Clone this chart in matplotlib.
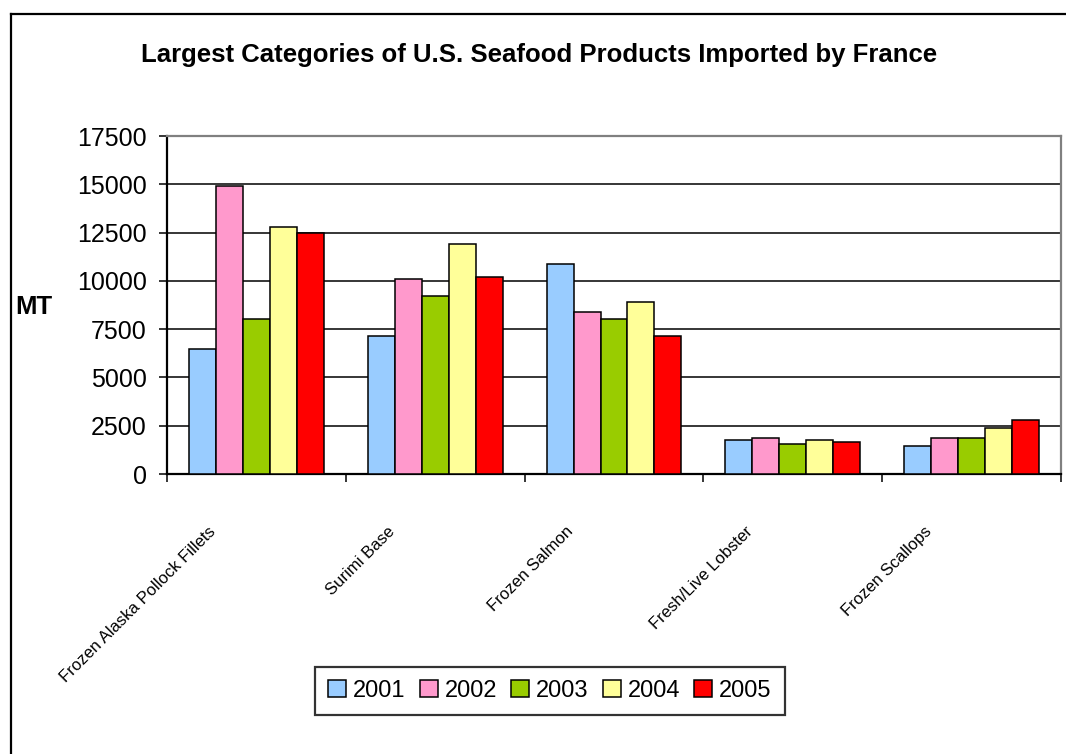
import matplotlib.pyplot as plt
import matplotlib.transforms as mtransforms
from matplotlib.lines import Line2D
import numpy as np

plt.rcParams['font.family'] = ['Liberation Sans', 'DejaVu Sans']

# Data (metric tons)
categories = ['Frozen Alaska Pollock Fillets', 'Surimi Base', 'Frozen Salmon',
              'Fresh/Live Lobster', 'Frozen Scallops']
years = ['2001', '2002', '2003', '2004', '2005']
v2001 = [6450, 7150, 10850, 1750, 1450]
v2002 = [14900, 10100, 8400, 1850, 1850]
v2003 = [8000, 9200, 8000, 1550, 1850]
v2004 = [12800, 11900, 8900, 1750, 2400]
v2005 = [12500, 10200, 7150, 1650, 2800]
colors = ['#99CCFF', '#FF99CC', '#99CC00', '#FFFF99', '#FF0000']

series = [v2001, v2002, v2003, v2004, v2005]

fig = plt.figure(figsize=(10.66, 7.54), dpi=100)
ax = fig.add_axes([167/1066, 1 - 474/754, 894/1066, 338/754])

# Outer chart border (only top/left visible in the original crop)
fig.add_artist(Line2D([11/1066, 11/1066], [1 - 14/754, -0.1], color='black', lw=1.6,
                      transform=fig.transFigure))
fig.add_artist(Line2D([11/1066, 1.1], [1 - 14/754, 1 - 14/754], color='black', lw=1.6,
                      transform=fig.transFigure))

x = np.arange(len(categories))
bw = 0.151
for i, (vals, col, yr) in enumerate(zip(series, colors, years)):
    ax.bar(x + (i - 2) * bw, vals, width=bw, color=col, edgecolor='black',
           linewidth=1.1, label=yr, zorder=3)

ax.set_xlim(-0.5, len(categories) - 0.5)
ax.set_ylim(0, 17500)
ax.set_yticks(np.arange(0, 17501, 2500))
ax.yaxis.grid(True, color='black', linewidth=1.1, zorder=0)
ax.tick_params(axis='y', labelsize=18, length=6, width=1.1, direction='out', pad=8.5)

# category boundary ticks
ax.set_xticks(np.arange(-0.5, len(categories) + 0.5, 1))
ax.set_xticklabels([])
ax.tick_params(axis='x', which='major', length=6, width=1.1, direction='out')
ax.set_xticks(x, minor=True)
ax.set_xticklabels(categories, minor=True, rotation=45, ha='right',
                   rotation_mode='anchor', fontsize=12)
ax.tick_params(axis='x', which='minor', length=0, pad=36)
offset = mtransforms.ScaledTranslation(-48/100, 0, fig.dpi_scale_trans)
for lab in ax.get_xticklabels(minor=True):
    lab.set_transform(lab.get_transform() + offset)

for s in ['left', 'bottom']:
    ax.spines[s].set_color('black')
    ax.spines[s].set_linewidth(1.6)
for s in ['top', 'right']:
    ax.spines[s].set_color('#808080')
    ax.spines[s].set_linewidth(1.6)

ax.set_ylabel('MT', rotation=0, fontsize=18.5, fontweight='bold', ha='left', va='center')
ax.yaxis.set_label_coords((15 - 167) / 894, (474 - 307) / 338)

fig.text(539/1066, 1 - 55/754, 'Largest Categories of U.S. Seafood Products Imported by France',
         ha='center', va='center', fontsize=18.5, fontweight='bold')

leg = fig.legend(loc='center', bbox_to_anchor=(550/1066, 1 - 691/754), ncol=5,
                 fontsize=17, frameon=True, fancybox=False, edgecolor='black',
                 handlelength=0.75, handleheight=0.75, handletextpad=0.3,
                 columnspacing=0.6, borderpad=0.55)
leg.get_frame().set_linewidth(1.6)

fig.savefig('out.png', dpi=100)
